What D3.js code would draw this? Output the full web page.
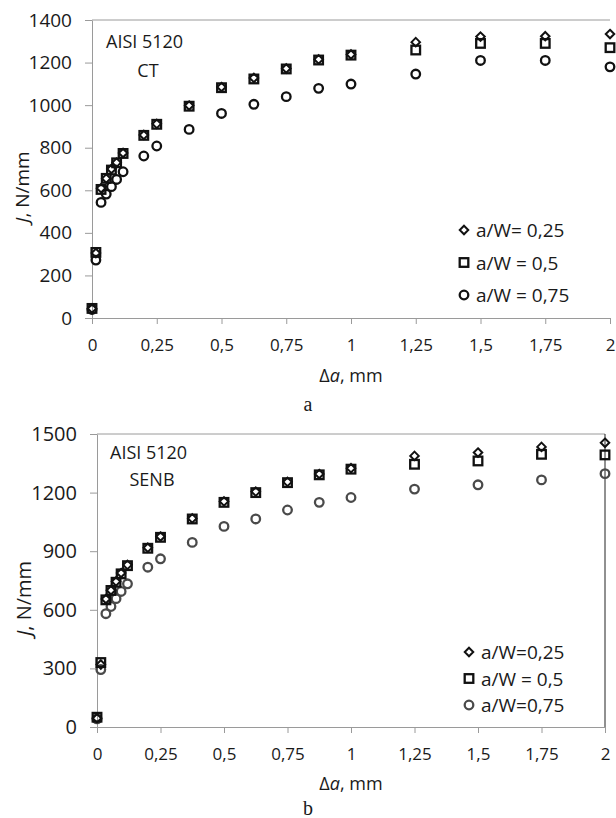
<!DOCTYPE html>
<html lang="en">
<head>
    <meta charset="UTF-8">
    <title>J-resistance curves</title>
    <style>
        body { margin: 0; background: #fff; }
        svg text { font-family: "Open Sans", sans-serif; fill: #1a1a1a; }
        .caption { font-family: "Liberation Serif", serif; }
        .domain, .tick line { stroke: #9a9a9a; }
    </style>
</head>
<body>
<svg width="616" height="818"></svg>

<script src="https://d3js.org/d3.v7.min.js"></script>
<script>

    // crack extension, mm (same for every series)
    var deltaA = [0, 0.015, 0.035, 0.055, 0.075, 0.095, 0.12, 0.2, 0.25, 0.375, 0.5, 0.625, 0.75, 0.875, 1, 1.25, 1.5, 1.75, 2];
    var xTicks = [0, 0.25, 0.5, 0.75, 1, 1.25, 1.5, 1.75, 2];

    // panel a: CT specimens
    var ctW025 = [45, 305, 610, 655, 700, 730, 775, 860, 912, 998, 1085, 1128, 1172, 1215, 1238, 1296, 1322, 1324, 1334];
    var ctW05  = [45, 308, 604, 656, 695, 729, 773, 858, 910, 995, 1082, 1123, 1170, 1212, 1235, 1259, 1290, 1290, 1270];
    var ctW075 = [40, 272, 543, 582, 617, 651, 687, 761, 808, 886, 961, 1004, 1040, 1079, 1099, 1146, 1210, 1210, 1180];
    var ctTicks = [0, 200, 400, 600, 800, 1000, 1200, 1400];

    // panel b: SENB specimens
    var senbW025 = [45, 320, 655, 700, 745, 788, 830, 918, 975, 1068, 1155, 1205, 1255, 1295, 1325, 1388, 1405, 1434, 1455];
    var senbW05  = [50, 330, 651, 699, 741, 784, 826, 915, 971, 1065, 1150, 1200, 1251, 1291, 1320, 1345, 1362, 1396, 1393];
    var senbW075 = [42, 294, 580, 617, 657, 694, 733, 818, 861, 945, 1027, 1065, 1111, 1150, 1175, 1218, 1240, 1265, 1297];
    var senbTicks = [0, 300, 600, 900, 1200, 1500];

    var fmt = function(d) { return String(d).replace(".", ","); };

    var svg = d3.select("svg");

    function drawPanel(p) {
        var x = d3.scaleLinear().domain([0, 2]).range([p.left, p.right]);
        var y = d3.scaleLinear().domain([0, p.yMax]).range([p.bottom, p.top]);
        var g = svg.append("g");

        // frame
        g.append("line").attr("x1", p.left).attr("x2", p.right).attr("y1", p.top).attr("y2", p.top)
            .attr("stroke", "#9a9a9a");
        if (p.rightBorder) {
            g.append("line").attr("x1", p.right).attr("x2", p.right).attr("y1", p.top).attr("y2", p.bottom)
                .attr("stroke", "#222");
        }

        g.append("g").attr("transform", "translate(0," + p.bottom + ")")
            .call(d3.axisBottom(x).tickValues(xTicks).tickFormat(fmt).tickSizeOuter(0).tickSizeInner(6).tickPadding(15))
            .call(function(a) { a.selectAll("text").style("font-size", "17px").style("font-family", "Open Sans"); });

        g.append("g").attr("transform", "translate(" + p.left + ",0)")
            .call(d3.axisLeft(y).tickValues(p.yTicks).tickFormat(d3.format("d")).tickSizeOuter(0).tickSizeInner(7).tickPadding(13))
            .call(function(a) { a.selectAll("text").style("font-size", p.yFont + "px").style("font-family", "Open Sans"); });

        // series: diamonds, squares, circles
        var series = [
            {vals: p.s1, shape: "diamond"},
            {vals: p.s2, shape: "square"},
            {vals: p.s3, shape: "circle"}
        ];
        // draw circles first, then squares, diamonds on top
        [2, 1, 0].forEach(function(i) {
            var s = series[i];
            var pts = deltaA.map(function(d, k) { return [x(d), y(s.vals[k])]; });
            drawMarks(g, pts, s.shape, i == 2 ? p.circleColor : "#111");
        });

        // legend
        var leg = g.append("g");
        p.legend.forEach(function(t, i) {
            var ly = p.legY + i * p.legStep;
            drawMarks(leg, [[p.legX, ly]], series[i].shape, i == 2 ? p.circleColor : "#111");
            leg.append("text").attr("x", p.legX + 12).attr("y", ly + 7)
                .style("font-size", "19px").text(t);
        });

        // annotations
        g.append("text").attr("x", p.noteX).attr("y", p.noteY).style("font-size", "18px").text("AISI 5120");
        g.append("text").attr("x", p.noteX + 42).attr("y", p.noteY + p.noteStep)
            .attr("text-anchor", "middle").style("font-size", "18px").text(p.specimen);

        // axis titles
        var yt = g.append("text").attr("transform", "translate(" + p.yTitleX + "," + ((p.top + p.bottom) / 2 + 18) + ") rotate(-90)")
            .attr("text-anchor", "middle").style("font-size", p.yFont + "px");
        yt.append("tspan").style("font-style", "italic").text("J");
        yt.append("tspan").text(", N/mm");

        var xt = g.append("text").attr("x", (p.left + p.right) / 2).attr("y", p.xTitleY)
            .attr("text-anchor", "middle").style("font-size", "18px");
        xt.append("tspan").text("Δ");
        xt.append("tspan").style("font-style", "italic").text("a");
        xt.append("tspan").text(", mm");

        g.append("text").attr("class", "caption").attr("x", 308).attr("y", p.capY)
            .attr("text-anchor", "middle").style("font-size", "20px").text(p.caption);
    }

    function drawMarks(g, pts, shape, color) {
        pts.forEach(function(pt) {
            if (shape == "circle") {
                g.append("circle").attr("cx", pt[0]).attr("cy", pt[1]).attr("r", 4.3)
                    .attr("fill", "none").attr("stroke", color).attr("stroke-width", 2.3);
            } else if (shape == "square") {
                g.append("rect").attr("x", pt[0] - 4.3).attr("y", pt[1] - 4.3).attr("width", 8.6).attr("height", 8.6)
                    .attr("fill", "none").attr("stroke", color).attr("stroke-width", 2.3);
            } else {
                g.append("path").attr("d", d3.symbol(d3.symbolDiamond2, 46)())
                    .attr("transform", "translate(" + pt[0] + "," + pt[1] + ")")
                    .attr("fill", "none").attr("stroke", color).attr("stroke-width", 2);
            }
        });
    }

    drawPanel({
        left: 92, right: 610, top: 20, bottom: 318, yMax: 1400, yTicks: ctTicks, yFont: 19,
        s1: ctW025, s2: ctW05, s3: ctW075, circleColor: "#111", rightBorder: false,
        legend: ["a/W= 0,25", "a/W = 0,5", "a/W = 0,75"], legX: 464, legY: 230, legStep: 32.5,
        noteX: 106, noteY: 48, noteStep: 29, specimen: "CT",
        yTitleX: 29, xTitleY: 382, capY: 411, caption: "a"
    });

    drawPanel({
        left: 97, right: 605, top: 434, bottom: 727, yMax: 1500, yTicks: senbTicks, yFont: 20,
        s1: senbW025, s2: senbW05, s3: senbW075, circleColor: "#4a4a4a", rightBorder: true,
        legend: ["a/W=0,25", "a/W = 0,5", "a/W=0,75"], legX: 469, legY: 652, legStep: 26.5,
        noteX: 110, noteY: 459, noteStep: 27, specimen: "SENB",
        yTitleX: 31, xTitleY: 790, capY: 815, caption: "b"
    });

</script>
</body>
</html>
